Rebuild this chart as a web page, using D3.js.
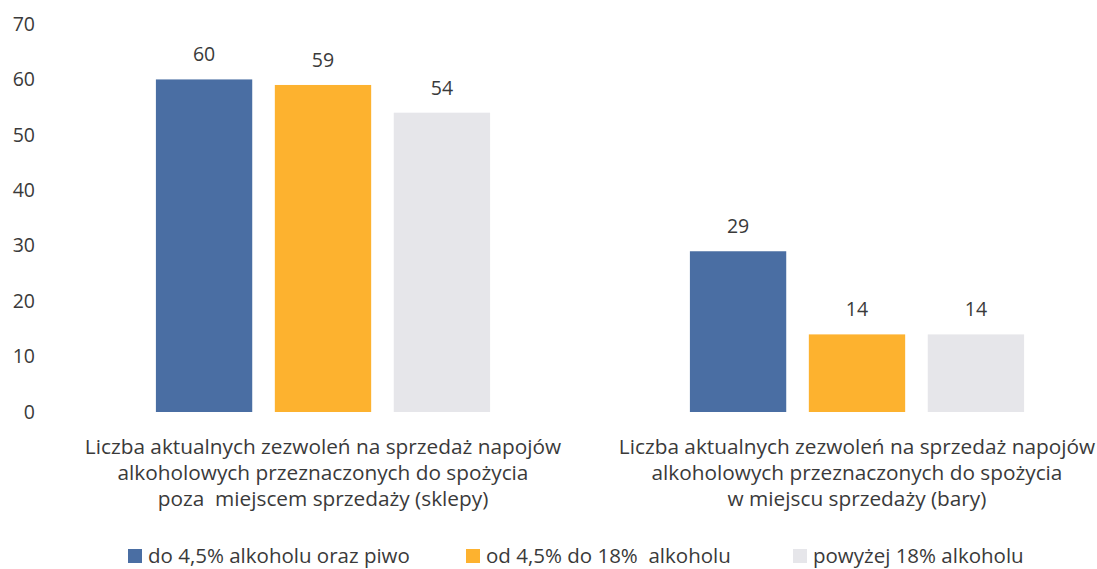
<!DOCTYPE html>
<html>
<head>
<meta charset="utf-8">
<script src="https://cdn.jsdelivr.net/npm/d3@7"></script>
<style>
  body { margin: 0; background: #fff; }
  svg text { font-family: "Open Sans", "Noto Sans", sans-serif; fill: #3a3a3a; white-space: pre; }
</style>
</head>
<body>
<svg width="1097" height="569"></svg>
<script>
// categories (each label is split into lines)
const categories = [
    ['Liczba aktualnych zezwoleń na sprzedaż napojów', 'alkoholowych przeznaczonych do spożycia', 'poza  miejscem sprzedaży (sklepy)'],
    ['Liczba aktualnych zezwoleń na sprzedaż napojów', 'alkoholowych przeznaczonych do spożycia', 'w miejscu sprzedaży (bary)']
];
const seriesNames = ['do 4,5% alkoholu oraz piwo', 'od 4,5% do 18%  alkoholu', 'powyżej 18% alkoholu'];
const seriesColors = ['#4a6ea3', '#fdb22f', '#e6e6ea'];
const seriesValues = [
    [60, 29],
    [59, 14],
    [54, 14]
];
const yTicks = [0, 10, 20, 30, 40, 50, 60, 70];

const svg = d3.select('svg');

const x0 = d3.scaleBand()
    .domain(d3.range(categories.length))
    .range([56, 1124]);

const x1 = d3.scaleBand()
    .domain(d3.range(seriesNames.length))
    .range([0, x0.bandwidth()])
    .paddingInner(0.19)
    .paddingOuter(0.84);

const y = d3.scaleLinear()
    .domain([0, 70])
    .range([412, 24]);

// y axis: labels only, no line
const yAxis = svg.append('g')
    .attr('transform', 'translate(35,0)')
    .call(d3.axisLeft(y).tickValues(yTicks).tickSize(0).tickPadding(0));
yAxis.select('.domain').remove();
yAxis.selectAll('text')
    .style('font-size', '19.5px')
    .style('font-family', '"Open Sans", sans-serif')
    .attr('fill', '#3a3a3a');

// bars
const groups = svg.append('g').selectAll('g')
    .data(categories)
    .join('g')
    .attr('transform', (d, i) => `translate(${x0(i)},0)`);

groups.each(function(cat, ci) {
    const g = d3.select(this);
    seriesNames.forEach((s, si) => {
        const v = seriesValues[si][ci];
        g.append('rect')
            .attr('x', x1(si))
            .attr('y', y(v))
            .attr('width', x1.bandwidth())
            .attr('height', y(0) - y(v))
            .attr('fill', seriesColors[si]);
        g.append('text')
            .attr('x', x1(si) + x1.bandwidth() / 2)
            .attr('y', y(v) - 18)
            .attr('text-anchor', 'middle')
            .style('font-size', '19.5px')
            .text(v);
    });

    // category label
    cat.forEach((line, li) => {
        g.append('text')
            .attr('x', x1(1) + x1.bandwidth() / 2)
            .attr('y', 454 + li * 26)
            .attr('text-anchor', 'middle')
            .style('font-size', '20.8px')
            .text(line);
    });
});

// legend
const legendX = [128, 466, 793];
const legend = svg.append('g');
seriesNames.forEach((s, i) => {
    legend.append('rect')
        .attr('x', legendX[i])
        .attr('y', 549)
        .attr('width', 14)
        .attr('height', 14)
        .attr('fill', seriesColors[i]);
    legend.append('text')
        .attr('x', legendX[i] + 20)
        .attr('y', 563)
        .style('font-size', '20.5px')
        .text(s);
});
</script>
</body>
</html>
